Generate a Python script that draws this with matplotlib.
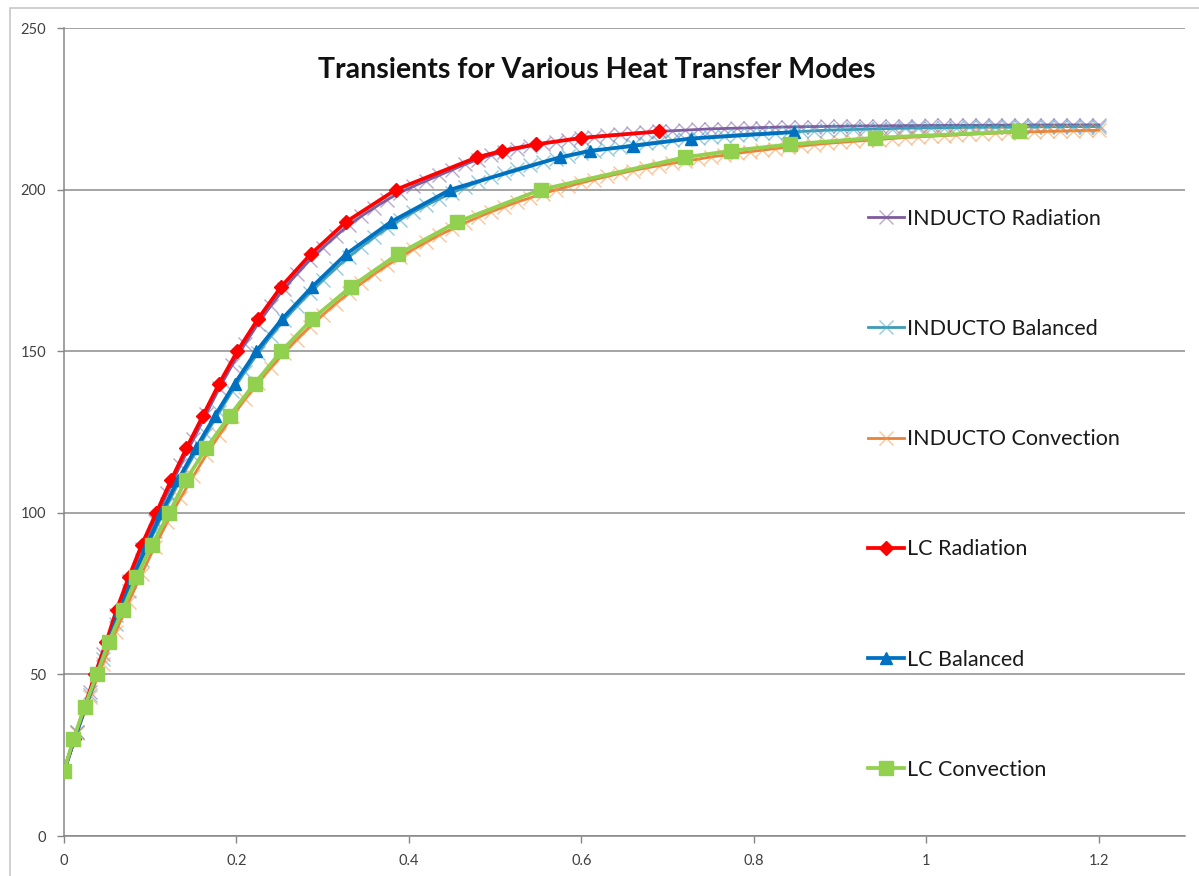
import matplotlib.pyplot as plt
import numpy as np
from matplotlib.patches import Rectangle

# sampled INDUCTO runs, one value every time_step
time_step = 0.015

inducto_radiation = [
    20, 32.3, 44.6, 56.3, 68.3, 79, 88.8, 97.5, 106.2, 114.7,
    122.7, 130.6, 138.5, 145.7, 152.3, 158.5, 164.1, 169.3, 173.9, 178.2,
    182, 185.6, 189, 191.8, 194.4, 196.9, 199.1, 201, 202.7, 204.4,
    206.1, 207.8, 209.3, 210.6, 211.7, 212.6, 213.5, 214.2, 214.8, 215.4,
    215.9, 216.4, 216.8, 217.1, 217.4, 217.7, 218.0, 218.2, 218.4, 218.6,
    218.8, 218.9, 219.0, 219.1, 219.2, 219.3, 219.4, 219.45, 219.5, 219.55,
    219.6, 219.65, 219.7, 219.7, 219.75, 219.8, 219.8, 219.85, 219.85, 219.9,
    219.9, 219.9, 219.95, 219.95, 219.95, 220, 220, 220, 220, 220,
    220,
]
inducto_balanced = [
    20, 32.1, 43.5, 54.9, 65.7, 75.9, 85.4, 94.3, 102.6, 110.3,
    117.5, 124.4, 131.1, 137.6, 143.7, 149.5, 154.7, 159.5, 163.9, 168,
    171.9, 175.6, 179.1, 182.3, 185.3, 188.1, 190.7, 193, 195.1, 197.1,
    199, 200.7, 202.3, 203.8, 205.1, 206.4, 207.5, 208.6, 209.5, 210.4,
    211.2, 212, 212.6, 213.2, 213.8, 214.3, 214.8, 215.2, 215.6, 216,
    216.3, 216.6, 216.9, 217.2, 217.4, 217.6, 217.8, 218, 218.2, 218.4,
    218.5, 218.6, 218.7, 218.8, 218.9, 219, 219.05, 219.1, 219.15, 219.2,
    219.25, 219.3, 219.3, 219.35, 219.4, 219.4, 219.45, 219.45, 219.5, 219.5,
    219.5,
]
inducto_convection = [
    20, 31.8, 42.9, 53.3, 63.1, 72.4, 81.0, 89.4, 97.2, 104.5,
    111.4, 117.9, 124.0, 129.8, 135.1, 140.2, 144.9, 149.4, 153.6, 157.5,
    161.2, 164.7, 167.9, 171.0, 173.9, 176.6, 179.1, 181.5, 183.7, 185.9,
    187.8, 189.7, 191.4, 193.1, 194.6, 196.1, 197.4, 198.7, 199.9, 201.0,
    202.1, 203.1, 204.1, 205.0, 205.9, 206.7, 207.4, 208.1, 208.8, 209.4,
    210.1, 210.6, 211.2, 211.7, 212.2, 212.7, 213.1, 213.5, 213.9, 214.3,
    214.6, 214.9, 215.2, 215.5, 215.8, 216.1, 216.3, 216.5, 216.7, 216.9,
    217.1, 217.3, 217.5, 217.6, 217.8, 217.9, 218.0, 218.1, 218.2, 218.3,
    218.4,
]

# LC runs: time at which each temperature is reached
lc_temps = [20, 30, 40, 50, 60, 70, 80, 90, 100, 110, 120, 130, 140, 150,
            160, 170, 180, 190, 200, 210, 212, 214, 216, 218]
lc_radiation_t = [0, 0.012, 0.024, 0.036, 0.049, 0.061, 0.075, 0.09, 0.107,
                  0.124, 0.142, 0.161, 0.18, 0.201, 0.225, 0.252, 0.286,
                  0.327, 0.385, 0.479, 0.508, 0.547, 0.6, 0.69]
lc_balanced_t = [0, 0.012, 0.025, 0.038, 0.051, 0.065, 0.08, 0.096, 0.113,
                 0.132, 0.153, 0.175, 0.198, 0.223, 0.253, 0.288, 0.327,
                 0.379, 0.448, 0.575, 0.61, 0.66, 0.727, 0.847]
lc_balanced_v = [20, 30, 40, 50, 60, 70, 80, 90, 100, 110, 120, 130, 140, 150,
                 160, 170, 180, 190, 200, 210, 212, 213.5, 215.8, 217.8]
lc_convection_t = [0, 0.011, 0.024, 0.038, 0.052, 0.068, 0.084, 0.102, 0.122,
                   0.141, 0.165, 0.192, 0.221, 0.252, 0.288, 0.333, 0.387,
                   0.456, 0.553, 0.72, 0.774, 0.842, 0.94, 1.107]

x_ticks = [0, 0.2, 0.4, 0.6, 0.8, 1.0, 1.2]
x_tick_labels = ["0", "0.2", "0.4", "0.6", "0.8", "1", "1.2"]
y_ticks = [0, 50, 100, 150, 200, 250]

assert len(inducto_radiation) == len(inducto_balanced) == len(inducto_convection) == 81

plt.rcParams["font.family"] = ["Lato", "DejaVu Sans"]

fig = plt.figure(figsize=(11.99, 8.76), dpi=100)
ax = fig.add_axes([64 / 1199, 1 - 836 / 876, (1185 - 64) / 1199, (836 - 28) / 876])

t = np.arange(len(inducto_radiation)) * time_step

inducto = [
    ("INDUCTO Radiation", inducto_radiation, "#7D5B9E", (0.50, 0.39, 0.64, 0.55)),
    ("INDUCTO Balanced", inducto_balanced, "#3E9BB5", (0.29, 0.67, 0.78, 0.6)),
    ("INDUCTO Convection", inducto_convection, "#E8833A", (0.97, 0.59, 0.27, 0.55)),
]
for label, vals, lc, mc in inducto:
    ax.plot(t, vals, color=lc, lw=2.0, marker="x", ms=10, mew=1.0,
            mec=mc, label=label, zorder=2)

ax.plot(lc_radiation_t, lc_temps, color="#FF0000", lw=2.7, marker="D", ms=7.5,
        mec="#FF0000", label="LC Radiation", zorder=3)
ax.plot(lc_balanced_t, lc_balanced_v, color="#0070C0", lw=2.7, marker="^", ms=9,
        mec="#0070C0", label="LC Balanced", zorder=3)
ax.plot(lc_convection_t, lc_temps, color="#92D050", lw=2.7, marker="s", ms=9.5,
        mec="#92D050", label="LC Convection", zorder=4)

ax.set_xlim(0, 1.3)
ax.set_ylim(0, 250)
ax.set_xticks(x_ticks)
ax.set_xticklabels(x_tick_labels)
ax.set_yticks(y_ticks)
ax.tick_params(axis="both", direction="out", length=5, width=1, color="#868686",
               labelsize=10.5, labelcolor="#404040", pad=8)
ax.yaxis.grid(True, color="#8c8c8c", lw=1.1)
ax.set_axisbelow(True)
for side in ("top", "right"):
    ax.spines[side].set_visible(False)
for side in ("left", "bottom"):
    ax.spines[side].set_color("#868686")
    ax.spines[side].set_linewidth(1.1)

fig.text(597 / 1199, 1 - 70 / 876, "Transients for Various Heat Transfer Modes",
         ha="center", va="center", fontsize=20.5, fontweight="bold", color="#111111")

leg = ax.legend(loc="upper left", bbox_to_anchor=(857 / 1199, 1 - 198 / 876),
                bbox_transform=fig.transFigure, frameon=False, fontsize=15.5,
                handlelength=1.7, handletextpad=0.1, labelspacing=4.19, borderpad=0)
for txt in leg.get_texts():
    txt.set_color("#1a1a1a")

fig.patches.append(Rectangle((10 / 1199, -0.1), 1.2, 1 - 8 / 876 + 0.1,
                             transform=fig.transFigure, fill=False,
                             edgecolor="#c8c8c8", lw=1.2))

fig.savefig("out.png", dpi=100)
